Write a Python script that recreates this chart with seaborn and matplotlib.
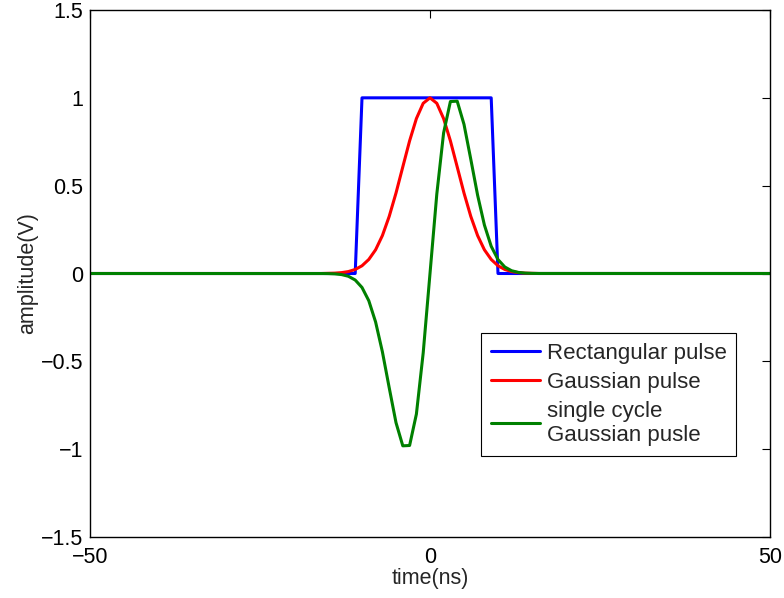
import pandas as pd
import numpy as np
import matplotlib
matplotlib.use("Agg")
import matplotlib.pyplot as plt
import seaborn as sns

# sample times (ns) and amplitudes (V)
rect_t = [-50, -11, -10, 9, 10, 50]
rect_v = [0, 0, 1, 1, 0, 0]

pulse_t = [-50, -16, -15, -14, -13, -12, -11, -10, -9, -8, -7, -6, -5, -4, -3, -2, -1,
           0, 1, 2, 3, 4, 5, 6, 7, 8, 9, 10, 11, 12, 13, 14, 15, 16, 50]

gauss_v = [0, 0, 0.001, 0.002, 0.005, 0.011, 0.023, 0.044, 0.080, 0.135, 0.216, 0.325,
           0.458, 0.607, 0.755, 0.882, 0.969,
           1.0,
           0.969, 0.882, 0.755, 0.607, 0.458, 0.325, 0.216, 0.135, 0.080, 0.044, 0.023,
           0.011, 0.005, 0.002, 0.001, 0, 0]

cycle_v = [0, -0.0002, -0.0007, -0.0022, -0.0062, -0.0158, -0.0371, -0.0795, -0.155,
           -0.276, -0.446, -0.650, -0.849, -0.981, -0.979, -0.800, -0.452,
           0.0,
           0.452, 0.800, 0.979, 0.981, 0.849, 0.650, 0.446, 0.276, 0.155, 0.0795, 0.0371,
           0.0158, 0.0062, 0.0022, 0.0007, 0.0002, 0]

labels = ["Rectangular pulse", "Gaussian pulse", "single cycle\nGaussian pusle"]
colors = ["#0000ff", "#ff0000", "#008000"]

df = pd.concat([
    pd.DataFrame({"t": rect_t, "v": rect_v, "signal": labels[0]}),
    pd.DataFrame({"t": pulse_t, "v": gauss_v, "signal": labels[1]}),
    pd.DataFrame({"t": pulse_t, "v": cycle_v, "signal": labels[2]}),
])

sns.set_style("white")
plt.rcParams["font.family"] = ["Liberation Sans", "DejaVu Sans"]
fs = 15.5

fig = plt.figure(figsize=(7.84, 5.98), dpi=100)
ax = fig.add_axes([90 / 784, 61 / 598, 680 / 784, 527 / 598])

sns.lineplot(data=df, x="t", y="v", hue="signal", hue_order=labels,
             palette=dict(zip(labels, colors)), estimator=None, sort=False,
             linewidth=2.2, ax=ax)

ax.set_xlim(-50, 50)
ax.set_ylim(-1.5, 1.5)
ax.set_xticks([-50, 0, 50])
ax.set_yticks([-1.5, -1, -0.5, 0, 0.5, 1, 1.5])
ax.set_yticklabels(["\u22121.5", "\u22121", "\u22120.5", "0", "0.5", "1", "1.5"])
ax.set_xticklabels(["\u221250", "0", "50"])
ax.tick_params(direction="in", length=6, width=0.8, top=True, right=True,
               labelsize=fs, colors="black")
ax.tick_params(axis="y", pad=5)
ax.tick_params(axis="x", pad=7)
for s in ax.spines.values():
    s.set_color("black")
    s.set_linewidth(1.0)

ax.set_xlabel("time(ns)", fontsize=fs, labelpad=0)
ax.set_ylabel("amplitude(V)", fontsize=fs, labelpad=2)

leg = ax.legend(loc="lower left", bbox_to_anchor=(0.575, 0.154), borderaxespad=0,
                frameon=True, fancybox=False, framealpha=1, edgecolor="black",
                handlelength=2.2, handletextpad=0.3, labelspacing=0.36,
                borderpad=0.45, fontsize=16)
leg.get_frame().set_linewidth(0.8)

fig.savefig("out.png", dpi=100)
